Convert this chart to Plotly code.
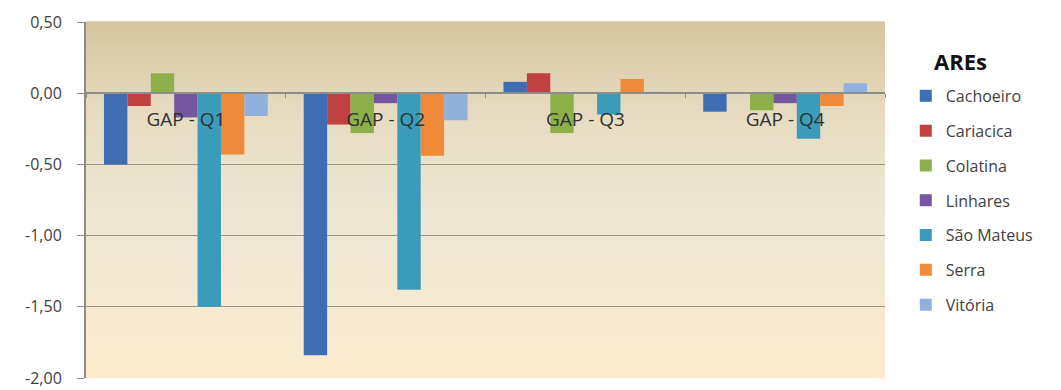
import plotly.graph_objects as go

categories = ["GAP - Q1", "GAP - Q2", "GAP - Q3", "GAP - Q4"]
series_names = ["Cachoeiro", "Cariacica", "Colatina", "Linhares", "São Mateus", "Serra", "Vitória"]
cachoeiro = [-0.50, -1.84, 0.08, -0.13]
cariacica = [-0.09, -0.22, 0.14, 0.00]
colatina = [0.14, -0.28, -0.28, -0.12]
linhares = [-0.17, -0.07, 0.00, -0.07]
sao_mateus = [-1.50, -1.38, -0.15, -0.32]
serra = [-0.43, -0.44, 0.10, -0.09]
vitoria = [-0.16, -0.19, 0.01, 0.07]
series_values = [cachoeiro, cariacica, colatina, linhares, sao_mateus, serra, vitoria]
colors = ["#3e6db3", "#c0413f", "#8db04a", "#7556a0", "#3a9cba", "#ef8a3a", "#92b0dc"]
y_ticks = [0.5, 0.0, -0.5, -1.0, -1.5, -2.0]
y_tick_labels = ["0,50", "0,00", "-0,50", "-1,00", "-1,50", "-2,00"]

fig = go.Figure()
for i, (name, vals) in enumerate(zip(series_names, series_values)):
    fig.add_trace(go.Bar(
        x=categories, y=vals, name=name, legendgroup=f"g{i}",
        marker=dict(color=colors[i], line=dict(width=0)),
    ))

# gradient background for the plot area
def lerp(c1, c2, t):
    return tuple(round(a + (b - a) * t) for a, b in zip(c1, c2))

stops = [(0.0, (0xfc, 0xeb, 0xcf)), (0.45, (0xee, 0xe7, 0xd4)), (0.75, (0xe6, 0xdb, 0xc0)), (1.0, (0xd5, 0xc5, 0xa0))]
n = 60
shapes = []
for k in range(n):
    t = (k + 0.5) / n
    for j in range(len(stops) - 1):
        if stops[j][0] <= t <= stops[j + 1][0]:
            tt = (t - stops[j][0]) / (stops[j + 1][0] - stops[j][0])
            c = lerp(stops[j][1], stops[j + 1][1], tt)
            break
    shapes.append(dict(type="rect", xref="x domain", yref="y domain",
                       x0=0, x1=1, y0=k / n, y1=(k + 1) / n + 0.002,
                       fillcolor="rgb(%d,%d,%d)" % c, line=dict(width=0), layer="below"))

fig.update_layout(
    width=1061, height=390,
    margin=dict(l=86, r=176, t=22, b=12, autoexpand=False),
    paper_bgcolor="white",
    plot_bgcolor="rgba(0,0,0,0)",
    separators=",.",
    barmode="group", bargap=0.18, bargroupgap=0,
    font=dict(family="Open Sans", color="#404040"),
    shapes=shapes,
    showlegend=True,
    legend=dict(x=1.026, xanchor="left", y=0.84, yanchor="top",
                font=dict(size=16, color="#404040"),
                tracegroupgap=11, bgcolor="rgba(0,0,0,0)"),
    annotations=[dict(text="<b>AREs</b>", xref="paper", yref="paper",
                      x=1.059, xanchor="left", y=0.89, yanchor="middle",
                      showarrow=False, font=dict(size=22, color="#111111"))],
)
fig.update_yaxes(
    range=[-2.0, 0.5], tickvals=y_ticks, ticktext=y_tick_labels,
    automargin=False,
    showgrid=True, gridcolor="#9a9488", gridwidth=1,
    zeroline=False,
    showline=True, linecolor="#8c8c8c", linewidth=2,
    ticks="outside", ticklen=7, tickcolor="#8c8c8c",
    ticklabelstandoff=12, ticklabeloverflow="allow",
    tickfont=dict(size=16, color="#404040"),
)
fig.update_xaxes(
    anchor="free", position=0.8, automargin=False,
    showline=True, linecolor="#8c8c8c", linewidth=2,
    ticks="outside", ticklen=4, tickcolor="#8c8c8c", tickson="boundaries",
    ticklabelstandoff=9,
    showgrid=False,
    tickfont=dict(size=19, color="#303030"),
)

fig.write_html("out.html")
